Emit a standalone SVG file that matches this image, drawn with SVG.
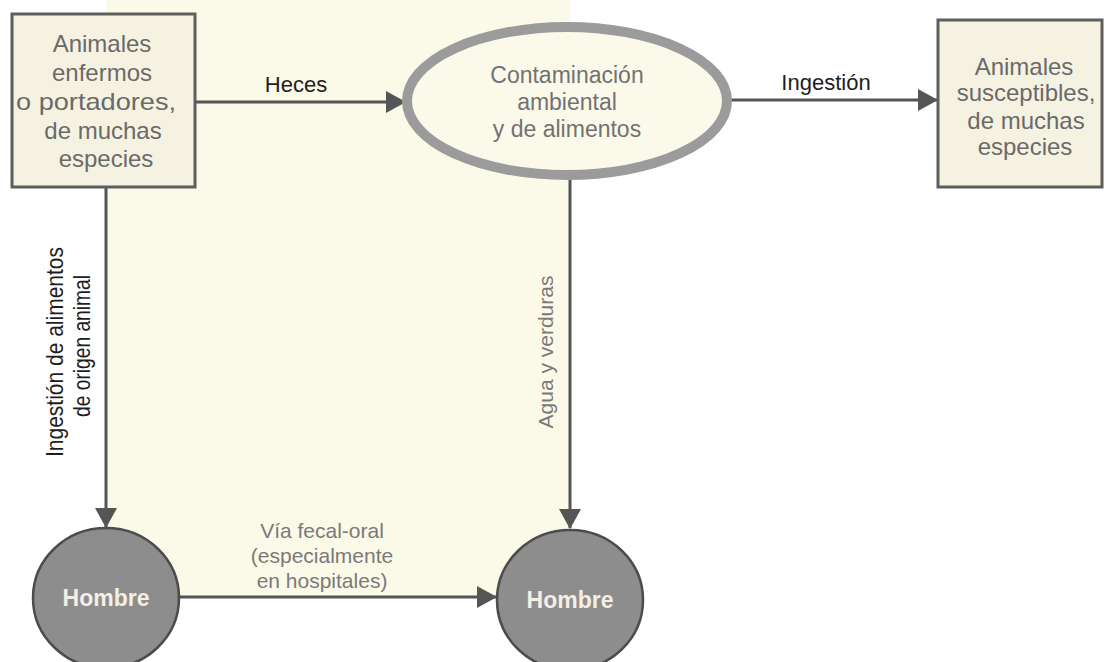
<svg xmlns="http://www.w3.org/2000/svg" width="1105" height="662" viewBox="0 0 1105 662">
<style>
.box{fill:#f6f2e2;stroke:#5e5e5e;stroke-width:3}
.ntext{font-family:"Liberation Sans",Arial,sans-serif;font-size:24px;fill:#6a6a6a;text-anchor:middle}
.etext{font-family:"Liberation Sans",Arial,sans-serif;font-size:23px;fill:#727272;text-anchor:middle}
.lbl{font-family:"Liberation Sans",Arial,sans-serif;font-size:22px;fill:#1e1e1e;text-anchor:middle}
.glbl{font-family:"Liberation Sans",Arial,sans-serif;font-size:21px;fill:#7a7a7a;text-anchor:middle}
.narrow{font-family:"Liberation Sans Narrow","Liberation Sans",Arial,sans-serif;font-size:24px;fill:#1e1e1e;text-anchor:middle}
.hombre{font-family:"Liberation Sans",Arial,sans-serif;font-size:23px;font-weight:bold;fill:#f4efe4;text-anchor:middle}
.circ{fill:#8d8d8d;stroke:#4c4c4c;stroke-width:2.5}
.conn{stroke:#555;stroke-width:3;fill:none;marker-end:url(#arr)}
</style>
<defs>
<marker id="arr" markerUnits="userSpaceOnUse" markerWidth="20" markerHeight="22" refX="19" refY="11" orient="auto">
<path d="M0,0 L20,11 L0,22 z" fill="#555"/>
</marker>
</defs>
<rect width="1105" height="662" fill="#ffffff"/>
<rect x="106" y="0" width="464" height="597" fill="#fbf9e8"/>

<g id="connectors">
<line class="conn" x1="195" y1="102" x2="405" y2="102"/>
<line class="conn" x1="730" y1="100" x2="937" y2="100"/>
<line class="conn" x1="106" y1="187" x2="106" y2="527"/>
<line class="conn" x1="570" y1="178" x2="570" y2="528"/>
<line class="conn" x1="180" y1="597" x2="496" y2="597"/>
<text class="lbl" x="296" y="92">Heces</text>
<text class="lbl" x="826" y="90">Ingestión</text>
<g transform="translate(63,352) rotate(-90)"><text class="narrow" x="0" y="0" textLength="210" lengthAdjust="spacingAndGlyphs">Ingestión de alimentos</text></g>
<g transform="translate(90,346) rotate(-90)"><text class="narrow" x="0" y="0" textLength="142" lengthAdjust="spacingAndGlyphs">de origen animal</text></g>
<g transform="translate(553,352) rotate(-90)"><text class="glbl" x="0" y="0">Agua y verduras</text></g>
<text class="glbl" x="322" y="538">Vía fecal-oral</text>
<text class="glbl" x="322" y="563">(especialmente</text>
<text class="glbl" x="322" y="588">en hospitales)</text>
</g>

<g id="n-animales-enfermos">
<rect class="box" x="12" y="14" width="183" height="173"/>
<text class="ntext" x="102" y="52">Animales</text>
<text class="ntext" x="102" y="81">enfermos</text>
<text class="ntext" x="96" y="110" textLength="160" lengthAdjust="spacingAndGlyphs">o portadores,</text>
<text class="ntext" x="103" y="139">de muchas</text>
<text class="ntext" x="106" y="167">especies</text>
</g>

<g id="n-contaminacion">
<ellipse cx="567" cy="101" rx="160" ry="74" fill="#fbf9ea" stroke="#9b9b9b" stroke-width="10"/>
<text class="etext" x="567" y="83">Contaminación</text>
<text class="etext" x="567" y="110">ambiental</text>
<text class="etext" x="567" y="137">y de alimentos</text>
</g>

<g id="n-animales-susceptibles">
<rect class="box" x="938" y="20" width="164" height="167"/>
<text class="ntext" x="1024" y="75">Animales</text>
<text class="ntext" x="1026" y="101">susceptibles,</text>
<text class="ntext" x="1026" y="129">de muchas</text>
<text class="ntext" x="1025" y="155">especies</text>
</g>

<g id="n-hombre-1">
<ellipse class="circ" cx="106" cy="598" rx="73" ry="70"/>
<text class="hombre" x="106" y="606">Hombre</text>
</g>

<g id="n-hombre-2">
<ellipse class="circ" cx="570" cy="600" rx="73" ry="70"/>
<text class="hombre" x="570" y="608">Hombre</text>
</g>
</svg>
